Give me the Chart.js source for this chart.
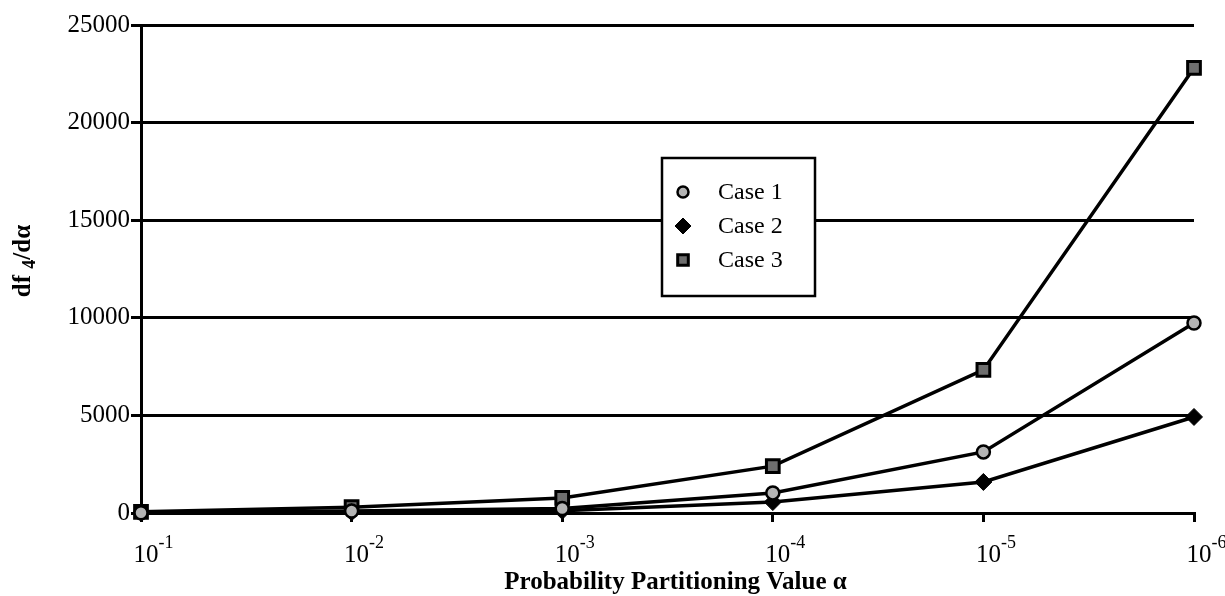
<!DOCTYPE html>
<html>
<head>
<meta charset="utf-8">
<script src="https://cdn.jsdelivr.net/npm/chart.js@4.4.1/dist/chart.umd.min.js"></script>
<style>
  html, body { margin: 0; padding: 0; background: #fff; }
  #wrap { width: 1225px; height: 596px; }
</style>
</head>
<body>
<div id="wrap"><canvas id="chart" width="1225" height="596"></canvas></div>
<script>
// values
const categories = ['10^-1', '10^-2', '10^-3', '10^-4', '10^-5', '10^-6'];
const case1 = [10, 100, 230, 1030, 3130, 9730];
const case2 = [5, 40, 110, 560, 1590, 4920];
const case3 = [60, 300, 770, 2400, 7330, 22800];
const yTicks = [0, 5000, 10000, 15000, 20000, 25000];

const serif = '"Liberation Serif", "Times New Roman", serif';

// x tick labels drawn as 10 with a raised exponent
const powerLabels = {
  id: 'powerLabels',
  afterDraw(chart) {
    const ctx = chart.ctx;
    const xs = chart.scales.x;
    ctx.save();
    ctx.fillStyle = '#000';
    ctx.textBaseline = 'alphabetic';
    categories.forEach((c, i) => {
      const parts = c.split('^');
      const x = xs.getPixelForValue(i) + 5;
      ctx.font = '25px ' + serif;
      const w = ctx.measureText(parts[0]).width;
      ctx.textAlign = 'center';
      ctx.fillText(parts[0], x, 562);
      ctx.font = '18px ' + serif;
      ctx.textAlign = 'left';
      ctx.fillText(parts[1], x + w / 2, 548);
    });
    ctx.restore();
  }
};

// axis titles
const axisTitles = {
  id: 'axisTitles',
  afterDraw(chart) {
    const ctx = chart.ctx;
    const area = chart.chartArea;
    ctx.save();
    ctx.fillStyle = '#000';
    ctx.font = 'bold 25px ' + serif;
    ctx.textAlign = 'center';
    ctx.textBaseline = 'alphabetic';
    ctx.fillText('Probability Partitioning Value \u03b1', (area.left + area.right) / 2 + 8, 589);

    // y title: df, subscript 4, /dα
    ctx.translate(30, (area.top + area.bottom) / 2 - 8);
    ctx.rotate(-Math.PI / 2);
    ctx.textAlign = 'left';
    const big = 'bold 25px ' + serif;
    const small = 'bold 18px ' + serif;
    ctx.font = big;
    const w1 = ctx.measureText('df ').width;
    const w3 = ctx.measureText('/d\u03b1').width;
    ctx.font = small;
    const w2 = ctx.measureText('4').width;
    let x = -(w1 + w2 + w3) / 2;
    ctx.font = big;
    ctx.fillText('df ', x, 0);
    x += w1;
    ctx.font = small;
    ctx.fillText('4', x, 5);
    x += w2;
    ctx.font = big;
    ctx.fillText('/d\u03b1', x, 0);
    ctx.restore();
  }
};

// boxed legend inside the plot
const boxLegend = {
  id: 'boxLegend',
  afterDraw(chart) {
    const ctx = chart.ctx;
    const bx = 662, by = 158, bw = 153, bh = 138;
    ctx.save();
    ctx.fillStyle = '#fff';
    ctx.fillRect(bx, by, bw, bh);
    ctx.strokeStyle = '#000';
    ctx.lineWidth = 2.5;
    ctx.strokeRect(bx, by, bw, bh);
    const sizes = [5.5, 8, 7.5];
    chart.data.datasets.forEach((ds, i) => {
      const y = by + 34 + i * 34;
      ctx.fillStyle = ds.pointBackgroundColor;
      ctx.strokeStyle = ds.pointBorderColor;
      ctx.lineWidth = ds.pointBorderWidth;
      Chart.helpers.drawPoint(ctx, { pointStyle: ds.pointStyle, radius: sizes[i], rotation: 0, borderWidth: ds.pointBorderWidth }, bx + 21, y);
      ctx.fillStyle = '#000';
      ctx.font = '24px ' + serif;
      ctx.textAlign = 'left';
      ctx.textBaseline = 'middle';
      ctx.fillText(ds.label, bx + 56, y + 1);
    });
    ctx.restore();
  }
};

new Chart('chart', {
  type: 'line',
  data: {
    labels: categories,
    datasets: [
      {
        label: 'Case 1',
        data: case1,
        borderColor: '#000',
        borderWidth: 3.5,
        pointStyle: 'circle',
        pointRadius: 6.5,
        pointBackgroundColor: '#b4b4b4',
        pointBorderColor: '#000',
        pointBorderWidth: 2.5,
        clip: false,
      },
      {
        label: 'Case 2',
        data: case2,
        borderColor: '#000',
        borderWidth: 3.5,
        pointStyle: 'rectRot',
        pointRadius: 8.5,
        pointBackgroundColor: '#000',
        pointBorderColor: '#000',
        pointBorderWidth: 1,
        clip: false,
      },
      {
        label: 'Case 3',
        data: case3,
        borderColor: '#000',
        borderWidth: 3.5,
        pointStyle: 'rect',
        pointRadius: 9,
        pointBackgroundColor: '#6e6e6e',
        pointBorderColor: '#000',
        pointBorderWidth: 3,
        clip: false,
      },
    ],
  },
  options: {
    responsive: false,
    animation: false,
    layout: { padding: { top: 25, right: 31, left: 0, bottom: 0 } },
    plugins: {
      legend: { display: false },
      tooltip: { enabled: false },
    },
    elements: { line: { tension: 0 } },
    scales: {
      x: {
        offset: false,
        afterFit: (s) => { s.height = 83; },
        grid: { drawOnChartArea: false, drawTicks: true, tickLength: 9, color: '#000', lineWidth: 3 },
        border: { display: true, color: '#000', width: 3 },
        ticks: { display: false },
      },
      y: {
        min: 0,
        max: 25000,
        afterFit: (s) => { s.width = 141; },
        afterBuildTicks: (s) => { s.ticks = yTicks.map((v) => ({ value: v })); },
        grid: { color: '#000', lineWidth: 3, drawTicks: true, tickLength: 10 },
        border: { display: true, color: '#000', width: 3 },
        ticks: {
          color: '#000',
          padding: 1,
          font: { family: serif, size: 25 },
          callback: (v) => String(v),
        },
      },
    },
  },
  plugins: [powerLabels, axisTitles, boxLegend],
});
</script>
</body>
</html>
